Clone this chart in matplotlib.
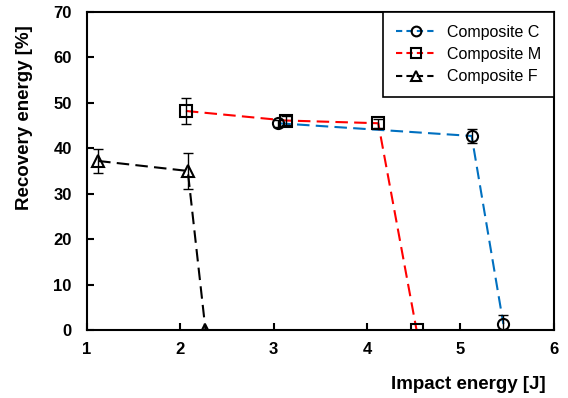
import matplotlib
matplotlib.use("Agg")
import matplotlib.pyplot as plt
from matplotlib.lines import Line2D

plt.rcParams["font.family"] = ["Liberation Sans", "DejaVu Sans"]

# Composite C
c_x = [3.05, 5.12, 5.46]
c_y = [45.5, 42.7, 1.3]
c_err = [0.8, 1.5, 2.0]

# Composite M
m_x = [2.06, 3.13, 4.12, 4.53]
m_y = [48.2, 46.1, 45.5, 0.0]
m_err = [2.9, 1.0, 1.0, 0.0]

# Composite F
f_x = [1.12, 2.08, 2.27]
f_y = [37.2, 35.0, 0.0]
f_err = [2.6, 4.0, 0.0]

series = [
    ("Composite C", c_x, c_y, c_err, "#0070C0", "o"),
    ("Composite M", m_x, m_y, m_err, "#FF0000", "s"),
    ("Composite F", f_x, f_y, f_err, "black", "^"),
]

fig = plt.figure(figsize=(5.68, 3.98), dpi=100)
ax = fig.add_axes([0.153, 0.171, 0.822, 0.799])

for name, x, y, e, col, mk in series:
    ax.plot(x, y, linestyle=(0, (6, 3)), color=col, lw=1.5, zorder=2)
    ax.errorbar(x, y, yerr=e, fmt="none", ecolor="black", elinewidth=1,
                capsize=3.5, capthick=1, zorder=3)
    ax.plot(x, y, linestyle="none", marker=mk, markersize=8,
            markerfacecolor="none", markeredgecolor="black",
            markeredgewidth=1.5, zorder=4)

# legend handles
handles = [Line2D([], [], color=col, linestyle=(0, (3, 2)), lw=1.5,
                  marker=mk, markersize=7, markerfacecolor="none",
                  markeredgecolor="black", markeredgewidth=1.5)
           for _, _, _, _, col, mk in series]
labels = [s[0] for s in series]
leg = ax.legend(handles, labels, loc="upper right", borderaxespad=0,
                fancybox=False, edgecolor="black", framealpha=1,
                fontsize=11.5, handlelength=2.6, borderpad=0.8,
                labelspacing=0.45, handletextpad=0.6)
leg.get_frame().set_linewidth(1.2)

ax.set_xlim(1, 6)
ax.set_ylim(0, 70)
ax.set_xticks(range(1, 7))
ax.set_yticks(range(0, 71, 10))
ax.tick_params(direction="in", length=5, width=1.5, labelsize=12)
ax.tick_params(axis="x", pad=9)
ax.tick_params(axis="y", pad=11)
for lab in ax.get_xticklabels() + ax.get_yticklabels():
    lab.set_fontweight("bold")
for sp in ax.spines.values():
    sp.set_linewidth(1.5)

ax.set_xlabel("Impact energy [J]", fontsize=13.5, fontweight="bold")
ax.set_ylabel("Recovery energy [%]", fontsize=13.5, fontweight="bold")
ax.xaxis.set_label_coords(0.816, -0.17)
ax.yaxis.set_label_coords(-0.133, 0.667)
ax.xaxis.label.set_va("center")
ax.yaxis.label.set_va("center")

fig.savefig("out.png", dpi=100)
